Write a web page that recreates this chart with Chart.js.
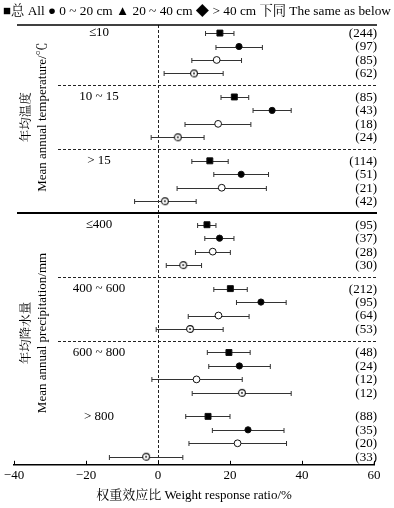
<!DOCTYPE html>
<html>
<head>
<meta charset="utf-8">
<script src="https://cdn.jsdelivr.net/npm/chart.js@4/dist/chart.umd.min.js"></script>
<style>
html, body { margin: 0; padding: 0; background: #fff; }
</style>
</head>
<body>
<canvas id="chart" width="394" height="508"></canvas>
<script>
// 权重效应比 森林图

const groupLabels = ['≤10', '10 ~ 15', '> 15', '≤400', '400 ~ 600', '600 ~ 800', '> 800'];
const xTicks = [-40, -20, 0, 20, 40, 60];

// 总 All
const allMean = [17.2, 21.2, 14.4, 13.6, 20.1, 19.7, 13.9];
const allLow  = [13.2, 17.5, 9.4, 11.0, 15.5, 13.7, 7.7];
const allHigh = [21.1, 25.2, 19.5, 16.1, 24.8, 25.6, 20.0];
const allN    = [244, 85, 114, 95, 212, 48, 88];

// 0 ~ 20 cm
const d20Mean = [22.5, 31.7, 23.1, 17.1, 28.6, 22.6, 25.0];
const d20Low  = [16.1, 26.4, 15.5, 13.0, 21.8, 14.1, 15.1];
const d20High = [29.0, 37.0, 30.7, 21.1, 35.6, 31.2, 35.0];
const d20N    = [97, 43, 51, 37, 95, 24, 35];

// 20 ~ 40 cm
const d40Mean = [16.3, 16.7, 17.7, 15.2, 16.8, 10.7, 22.1];
const d40Low  = [9.4, 7.5, 5.3, 10.4, 8.4, -1.7, 8.6];
const d40High = [23.2, 25.8, 30.1, 20.1, 25.3, 23.4, 35.7];
const d40N    = [85, 18, 21, 28, 64, 12, 20];

// > 40 cm
const deepMean = [10.0, 5.5, 1.9, 7.0, 8.9, 23.3, -3.3];
const deepLow  = [1.7, -1.9, -6.5, 2.3, -0.5, 9.5, -13.5];
const deepHigh = [18.1, 12.8, 10.6, 12.1, 18.1, 37.0, 6.9];
const deepN    = [62, 24, 42, 30, 53, 12, 33];

const GROUP_STEP = 4.75;
const SERIF = "'Liberation Serif', 'Noto Serif CJK SC', 'Noto Sans CJK SC', serif";

function rowPos(g, r) {
    return g * GROUP_STEP + r;
}

function ringDot() {
    const c = document.createElement('canvas');
    c.width = 10; c.height = 10;
    const g = c.getContext('2d');
    g.fillStyle = '#fff';
    g.beginPath(); g.arc(5, 5, 3.4, 0, Math.PI * 2); g.fill();
    g.strokeStyle = '#111'; g.lineWidth = 1.1; g.stroke();
    g.fillStyle = '#111';
    g.beginPath(); g.arc(5, 5, 0.9, 0, Math.PI * 2); g.fill();
    return c;
}

const series = [
    { mean: allMean, low: allLow, high: allHigh, n: allN, style: 'rect', radius: 4.2, fill: '#000' },
    { mean: d20Mean, low: d20Low, high: d20High, n: d20N, style: 'circle', radius: 3.1, fill: '#000' },
    { mean: d40Mean, low: d40Low, high: d40High, n: d40N, style: 'circle', radius: 3.4, fill: '#fff' },
    { mean: deepMean, low: deepLow, high: deepHigh, n: deepN, style: ringDot(), radius: 4, fill: '#fff' }
];

const datasets = series.map((s, r) => ({
    data: s.mean.map((v, g) => ({ x: v, y: rowPos(g, r) })),
    pointStyle: s.style,
    pointRadius: s.radius,
    pointHoverRadius: s.radius,
    backgroundColor: s.fill,
    borderColor: '#111',
    borderWidth: 1
}));

const forestPlugin = {
    id: 'forest',
    beforeDatasetsDraw(chart) {
        const { ctx, chartArea, scales: { x, y } } = chart;
        ctx.save();
        // 分隔线
        ctx.strokeStyle = '#222';
        ctx.lineWidth = 1;
        ctx.setLineDash([3, 2]);
        [1, 2, 4, 5].forEach(g => {
            const py = Math.round(y.getPixelForValue(rowPos(g, 0) - 0.875)) + 0.5;
            ctx.beginPath(); ctx.moveTo(58, py); ctx.lineTo(377, py); ctx.stroke();
        });
        const zx = Math.round(x.getPixelForValue(0)) + 0.5;
        ctx.beginPath(); ctx.moveTo(zx, chartArea.top); ctx.lineTo(zx, chartArea.bottom); ctx.stroke();
        ctx.setLineDash([]);
        ctx.strokeStyle = '#000';
        ctx.lineWidth = 1.5;
        ctx.beginPath(); ctx.moveTo(17, chartArea.top); ctx.lineTo(377, chartArea.top); ctx.stroke();
        const sy = y.getPixelForValue(rowPos(3, 0) - 0.875);
        ctx.lineWidth = 2;
        ctx.beginPath(); ctx.moveTo(17, sy); ctx.lineTo(377, sy); ctx.stroke();

        // 误差线
        ctx.strokeStyle = '#333';
        ctx.lineWidth = 1;
        series.forEach((s, r) => {
            s.mean.forEach((v, g) => {
                const py = Math.round(y.getPixelForValue(rowPos(g, r))) + 0.5;
                const x1 = x.getPixelForValue(s.low[g]);
                const x2 = x.getPixelForValue(s.high[g]);
                ctx.beginPath();
                ctx.moveTo(x1, py); ctx.lineTo(x2, py);
                ctx.moveTo(x1, py - 2.5); ctx.lineTo(x1, py + 2.5);
                ctx.moveTo(x2, py - 2.5); ctx.lineTo(x2, py + 2.5);
                ctx.stroke();
            });
        });
        ctx.restore();
    },
    afterDraw(chart) {
        const { ctx, chartArea, scales: { x, y } } = chart;
        ctx.save();
        ctx.fillStyle = '#000';
        ctx.textBaseline = 'middle';

        // 样本数
        ctx.font = '13px ' + SERIF;
        ctx.textAlign = 'right';
        series.forEach((s, r) => {
            s.n.forEach((n, g) => {
                ctx.fillText('(' + n + ')', 377, y.getPixelForValue(rowPos(g, r)) + 0.5);
            });
        });

        // 分组标签
        ctx.textAlign = 'center';
        groupLabels.forEach((lab, g) => {
            ctx.fillText(lab, 99, y.getPixelForValue(rowPos(g, 0)));
        });

        // 纵向标题
        const vTitle = (zh, en, cy) => {
            ctx.save();
            ctx.translate(27, cy);
            ctx.rotate(-Math.PI / 2);
            ctx.font = '12.5px ' + SERIF;
            ctx.fillText(zh, 0, 0);
            ctx.restore();
            ctx.save();
            ctx.translate(43, cy);
            ctx.rotate(-Math.PI / 2);
            ctx.font = '13px ' + SERIF;
            ctx.fillText(en, 0, 0);
            ctx.restore();
        };
        vTitle('年均温度', 'Mean annual temperature/℃', y.getPixelForValue(rowPos(1, 1) + 0.5));
        vTitle('年均降水量', 'Mean annual precipitation/mm', y.getPixelForValue(rowPos(4, 3) + 0.3));

        // 图例
        ctx.textAlign = 'left';
        ctx.font = '13.3px ' + SERIF;
        ctx.fillText('■总 All ● 0 ~ 20 cm ▲ 20 ~ 40 cm ◆ > 40 cm 下同 The same as below', 3, 12);

        // 内向刻度
        ctx.strokeStyle = '#000';
        ctx.lineWidth = 1;
        xTicks.forEach(t => {
            const px = Math.round(x.getPixelForValue(t)) + 0.5;
            ctx.beginPath(); ctx.moveTo(px, chartArea.bottom - 4); ctx.lineTo(px, chartArea.bottom); ctx.stroke();
        });
        ctx.restore();
    }
};

new Chart(document.getElementById('chart').getContext('2d'), {
    type: 'scatter',
    data: { datasets },
    options: {
        responsive: false,
        animation: false,
        events: [],
        layout: { padding: { left: 14, right: 20, top: 25, bottom: 5 } },
        plugins: { legend: { display: false }, tooltip: { enabled: false } },
        scales: {
            x: {
                min: -40,
                max: 60,
                afterBuildTicks: (axis) => { axis.ticks = xTicks.map(v => ({ value: v })); },
                grid: { display: false, drawTicks: false },
                border: { display: true, color: '#000', width: 1.5 },
                ticks: {
                    color: '#000',
                    padding: 3,
                    maxRotation: 0,
                    font: { family: SERIF, size: 13 },
                    callback: (v) => String(v).replace('-', '−')
                },
                title: {
                    display: true,
                    text: '权重效应比 Weight response ratio/%',
                    color: '#000',
                    font: { family: SERIF, size: 13 },
                    padding: { top: 1, bottom: 0 }
                }
            },
            y: {
                display: false,
                reverse: true,
                min: -0.6,
                max: rowPos(6, 3) + 0.6
            }
        }
    },
    plugins: [forestPlugin]
});
</script>
</body>
</html>
